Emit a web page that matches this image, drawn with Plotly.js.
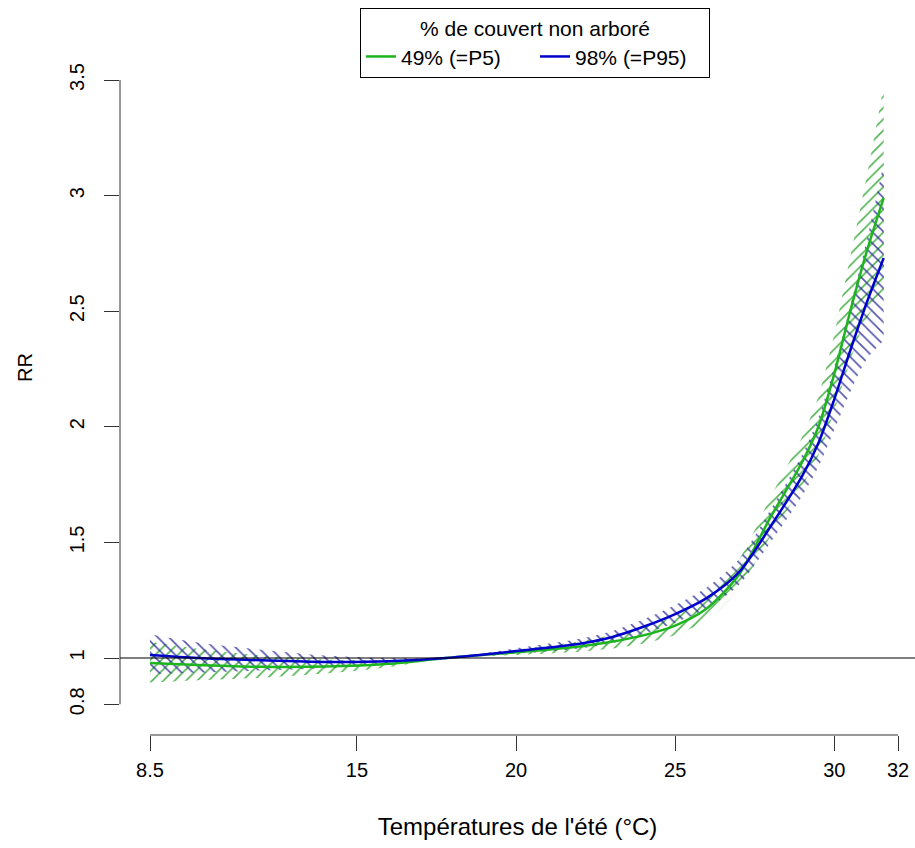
<!DOCTYPE html>
<html>
<head>
<meta charset="utf-8">
<script src="https://cdn.plot.ly/plotly-3.0.1.min.js"></script>
<style>html,body{margin:0;padding:0;background:#fff;}#chart{width:915px;height:848px;}</style>
</head>
<body>
<div id="chart"></div>
<script>
// Temperatures (°C)
const temps = [8.5, 10, 12, 14, 16, 17.8, 20, 22, 23, 24, 25, 26, 27, 28, 29, 29.5, 30, 30.5, 31, 31.55];

// 49% (=P5) non-tree cover
const rrP5    = [0.978, 0.970, 0.962, 0.963, 0.975, 1.000, 1.025, 1.050, 1.070, 1.098, 1.140, 1.215, 1.360, 1.610, 1.850, 2.000, 2.230, 2.500, 2.750, 2.990];
const rrP5Lo  = [0.894, 0.904, 0.915, 0.933, 0.960, 1.000, 1.013, 1.027, 1.041, 1.063, 1.099, 1.165, 1.298, 1.528, 1.746, 1.876, 2.071, 2.285, 2.464, 2.574];
const rrP5Hi  = [1.070, 1.040, 1.011, 0.994, 0.991, 1.000, 1.037, 1.073, 1.099, 1.134, 1.183, 1.267, 1.425, 1.696, 1.960, 2.132, 2.401, 2.735, 3.070, 3.474];

// 98% (=P95) non-tree cover
const rrP95   = [1.013, 1.000, 0.990, 0.983, 0.986, 1.000, 1.030, 1.062, 1.090, 1.135, 1.190, 1.260, 1.370, 1.570, 1.790, 1.930, 2.120, 2.330, 2.530, 2.730];
const rrP95Lo = [0.930, 0.937, 0.946, 0.956, 0.972, 1.000, 1.018, 1.041, 1.064, 1.104, 1.153, 1.215, 1.316, 1.501, 1.703, 1.827, 1.987, 2.151, 2.289, 2.373];
const rrP95Hi = [1.103, 1.067, 1.036, 1.011, 1.000, 1.000, 1.042, 1.083, 1.116, 1.167, 1.229, 1.306, 1.426, 1.642, 1.882, 2.039, 2.262, 2.524, 2.796, 3.140];

const xTicks = [8.5, 15, 20, 25, 30, 32];
const xTickText = ['8.5', '15', '20', '25', '30', '32'];
const yTicks = [0.8, 1, 1.5, 2, 2.5, 3, 3.5];
const yTickText = ['0.8', '1', '1.5', '2', '2.5', '3', '3.5'];

const labels = { p5: '49% (=P5)', p95: '98% (=P95)', legendTitle: '% de couvert non arboré',
  xTitle: "Températures de l'été (°C)", yTitle: 'RR' };

const green = '#1db51d', blue = '#0000cd';
const greenHatch = 'rgba(50,165,50,0.85)', blueHatch = 'rgba(40,40,150,0.8)';
const FONT = 'Liberation Sans, Arial, sans-serif';

function band(lo, hi, hatchShape, color) {
  return [
    {x: temps, y: lo, mode: 'lines', line: {width: 0, shape: 'spline', smoothing: 0.8}, showlegend: false, hoverinfo: 'skip'},
    {x: temps, y: hi, mode: 'lines', line: {width: 0, shape: 'spline', smoothing: 0.8}, fill: 'tonexty', fillcolor: 'rgba(0,0,0,0)',
     fillpattern: {shape: hatchShape, fgcolor: color, bgcolor: 'rgba(0,0,0,0)', size: 8, solidity: 0.2, fillmode: 'replace'},
     showlegend: false, hoverinfo: 'skip'}
  ];
}

const data = [
  ...band(rrP5Lo, rrP5Hi, '/', greenHatch),
  ...band(rrP95Lo, rrP95Hi, '\\', blueHatch),
  {x: temps, y: rrP5, mode: 'lines', name: labels.p5, line: {color: green, width: 2.5, shape: 'spline', smoothing: 0.8}},
  {x: temps, y: rrP95, mode: 'lines', name: labels.p95, line: {color: blue, width: 2.5, shape: 'spline', smoothing: 0.8}}
];

const layout = {
  width: 915, height: 848,
  margin: {l: 120, r: 0, t: 0, b: 113},
  paper_bgcolor: '#fff', plot_bgcolor: '#fff',
  font: {family: FONT, size: 20, color: '#000'},
  showlegend: true,
  legend: {
    x: 0.3019, y: 0.9891, xanchor: 'left', yanchor: 'top',
    orientation: 'h', bordercolor: '#000', borderwidth: 1, bgcolor: '#fff',
    font: {family: FONT, size: 21, color: '#000'},
    title: {text: labels.legendTitle, side: 'top center', font: {family: FONT, size: 21, color: '#000'}},
    itemwidth: 30, entrywidth: 129, traceorder: 'normal'
  },
  xaxis: {
    range: [7.5575, 32.534], showgrid: false, zeroline: false, showline: false,
    tickmode: 'array', tickvals: xTicks, ticktext: xTickText,
    ticks: 'outside', ticklen: 15, tickwidth: 1, tickcolor: '#333', ticklabelstandoff: 2,
    tickfont: {family: FONT, size: 20, color: '#000'},
    title: {text: labels.xTitle, font: {family: FONT, size: 24, color: '#000'}, standoff: 38},
    fixedrange: true
  },
  yaxis: {
    range: [0.667, 3.846], showgrid: false, zeroline: false, showline: false,
    tickmode: 'array', tickvals: yTicks, ticktext: yTickText, tickangle: -90,
    ticks: 'outside', ticklen: 15, tickwidth: 1, tickcolor: '#333', ticklabelstandoff: 12,
    tickfont: {family: FONT, size: 20, color: '#000'},
    title: {text: labels.yTitle, font: {family: FONT, size: 20, color: '#000'}, standoff: 28},
    fixedrange: true
  },
  shapes: [
    {type: 'line', xref: 'x', yref: 'paper', x0: xTicks[0], x1: xTicks[xTicks.length - 1], y0: 0, y1: 0, line: {color: '#333', width: 1}},
    {type: 'line', xref: 'paper', yref: 'y', x0: 0, x1: 0, y0: yTicks[0], y1: yTicks[yTicks.length - 1], line: {color: '#333', width: 1}},
    {type: 'line', xref: 'paper', yref: 'y', x0: 0, x1: 1, y0: 1, y1: 1, line: {color: '#000', width: 1.2}}
  ]
};

Plotly.newPlot('chart', data, layout, {staticPlot: true, displayModeBar: false});
</script>
</body>
</html>
